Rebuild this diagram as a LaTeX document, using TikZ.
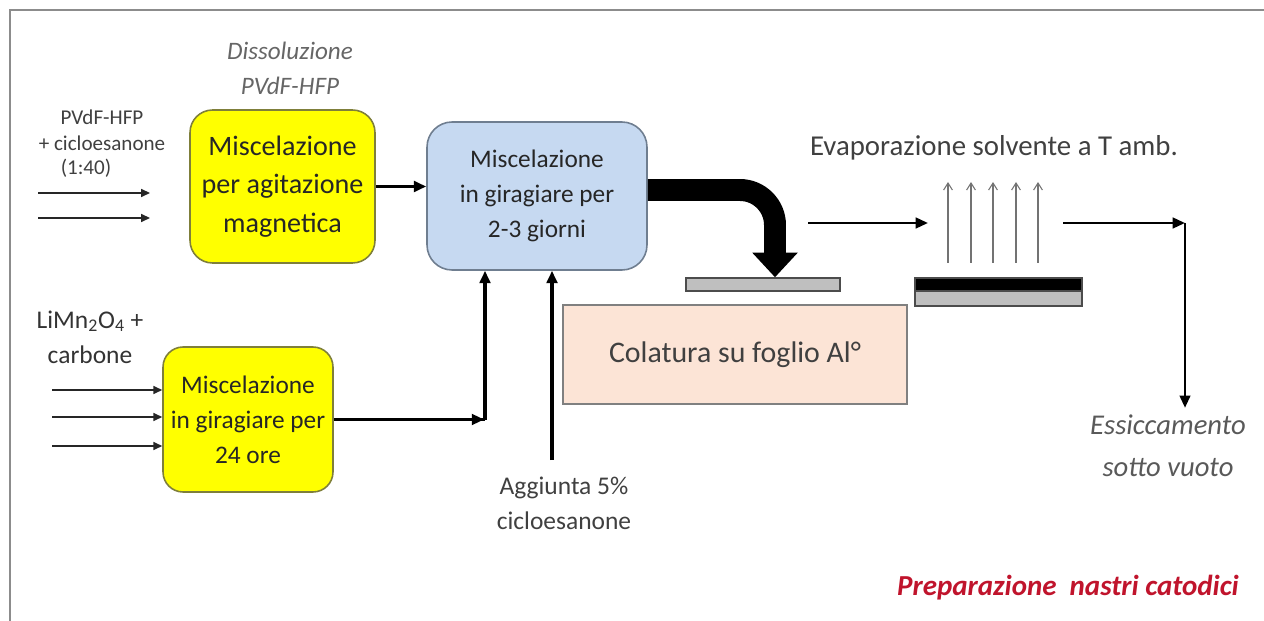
\documentclass[tikz,border=0pt]{standalone}
\usepackage{fontspec}
\setmainfont{Carlito}
\usetikzlibrary{arrows.meta}
\definecolor{boxyellow}{HTML}{FFFF00}
\definecolor{yellowline}{HTML}{7F7F3A}
\definecolor{boxblue}{HTML}{C6D9F1}
\definecolor{blueline}{HTML}{6F7E90}
\definecolor{boxpeach}{HTML}{FCE4D6}
\definecolor{barfill}{HTML}{BFBFBF}
\definecolor{labelgray}{HTML}{404040}
\definecolor{titlered}{HTML}{C0142C}
\begin{document}
\begin{tikzpicture}[x=0.02cm, y=-0.02cm,
      box/.style={align=center, inner sep=0pt, line width=0.9pt},
      yellowbox/.style={box, fill=boxyellow, draw=yellowline, rounded corners=0.45cm},
      bluebox/.style={box, fill=boxblue, draw=blueline, rounded corners=0.5cm},
      bar/.style={draw=black!70, line width=0.8pt, minimum width=#1, minimum height=0.26cm, inner sep=0pt},
      lbl/.style={text=labelgray, align=center, inner sep=0pt},
      flow/.style={-{Triangle[length=7pt,width=6pt]}, line width=1.8pt},
      feed/.style={-{Triangle[length=5pt,width=4.5pt]}, line width=0.8pt, draw=black!85},
      vapour/.style={-{Straight Barb[length=4pt,width=5pt]}, line width=0.6pt, draw=black!55} ]
      \useasboundingbox (0,0) rectangle (1264,621);
      % frame
      \draw[black!45, line width=1.2pt] (1264,10) -| (10,621);

      % boxes
      \node[yellowbox, minimum width=3.7cm, minimum height=3.06cm, font=\fontsize{16}{22}\selectfont, text=black!85] (mag) at (282.5,186.5)
        {Miscelazione\\per agitazione\\magnetica};
      \node[bluebox, minimum width=4.4cm, minimum height=2.96cm, font=\fontsize{14.4}{20}\selectfont, text=black!85] (gir) at (537,196)
        {Miscelazione\\in giragiare per\\2-3 giorni};
      \node[yellowbox, rounded corners=0.4cm, minimum width=3.4cm, minimum height=2.9cm, font=\fontsize{14.4}{20}\selectfont, text=black!85] (ore) at (248,419.5)
        {Miscelazione\\in giragiare per\\24 ore};
      \node[box, fill=boxpeach, draw=black!50, minimum width=6.88cm, minimum height=1.98cm, font=\fontsize{17}{20}\selectfont, text=labelgray] (col) at (735,354.5)
        {Colatura su foglio Al°};

      % foils
      \node[bar=3.08cm, fill=barfill] (foil) at (763,284.5) {};
      \node[bar=3.34cm, fill=black] (tape) at (998.5,284.5) {};
      \node[bar=3.34cm, fill=barfill, minimum height=0.3cm] (base) at (998.5,298.5) {};

      % labels
      \node[lbl, text=black!60, font=\fontsize{14.3}{20}\selectfont\itshape] (dis) at (290,68) {Dissoluzione\\PVdF-HFP};
      \node[lbl, font=\fontsize{12}{14.7}\selectfont] (pvdf) at (102,130) {PVdF-HFP\\+ cicloesanone};
      \node[lbl, font=\fontsize{12}{14.7}\selectfont] (ratio) at (86,168) {(1:40)};
      \node[lbl, text=black!80, font=\fontsize{14.5}{20}\selectfont] (lmo) at (90,337) {LiMn\textsubscript{2}O\textsubscript{4} +\\carbone};
      \node[lbl, font=\fontsize{14.5}{20}\selectfont] (add) at (564,503) {Aggiunta 5\%\\cicloesanone};
      \node[lbl, font=\fontsize{16.4}{20}\selectfont] (evap) at (994,148) {Evaporazione solvente a T amb.};
      \node[lbl, text=black!65, font=\fontsize{16.3}{23.7}\selectfont\itshape] (dry) at (1168,446) {Essiccamento\\sotto vuoto};
      \node[lbl, text=titlered, font=\fontsize{16.5}{20}\selectfont\bfseries\itshape] (title) at (1068,588) {Preparazione~~nastri catodici};

      % inputs
      \coordinate (p1) at (38,193);
      \coordinate (p2) at (38,218);
      \draw[feed] (p1) -- +(112,0);
      \draw[feed] (p2) -- +(112,0);
      \foreach \y in {390,417,446}
        \draw[feed] (52,\y) -- (52,\y -| ore.west);

      % flows
      \draw[flow] (mag.east) -- (mag.east -| gir.west);
      \coordinate (j1) at (485,419.5);
      \draw[flow, -] (ore.east) -- (j1);
      \draw[flow] (ore.east) -- ([xshift=-0.5pt]j1);
      \draw[flow] (j1) -- (j1 |- gir.south);
      \coordinate (a1) at (552,460);
      \draw[flow] (a1) -- (a1 |- gir.south);

      % casting
      \draw[line width=12.5pt, rounded corners=20pt, -{Triangle[length=14pt,width=25pt]}]
        (gir.east |- 0,190) -| ([xshift=0.24cm]foil.north);

      % evaporation
      \coordinate (e1) at (808,223);
      \coordinate (e2) at (928,223);
      \draw[flow, line width=1.5pt] (e1) -- (e2);
      \foreach \x in {948,971,993,1016,1038}
        \draw[vapour] (\x,263) -- (\x,182);

      % drying
      \coordinate (d1) at (1063,223);
      \coordinate (d2) at (1185,223);
      \draw[flow, line width=1.5pt] (d1) -- (d2);
      \draw[flow, line width=1.5pt] (d2) -- ([yshift=4pt]d2 |- dry.north);
    \end{tikzpicture}
\end{document}
